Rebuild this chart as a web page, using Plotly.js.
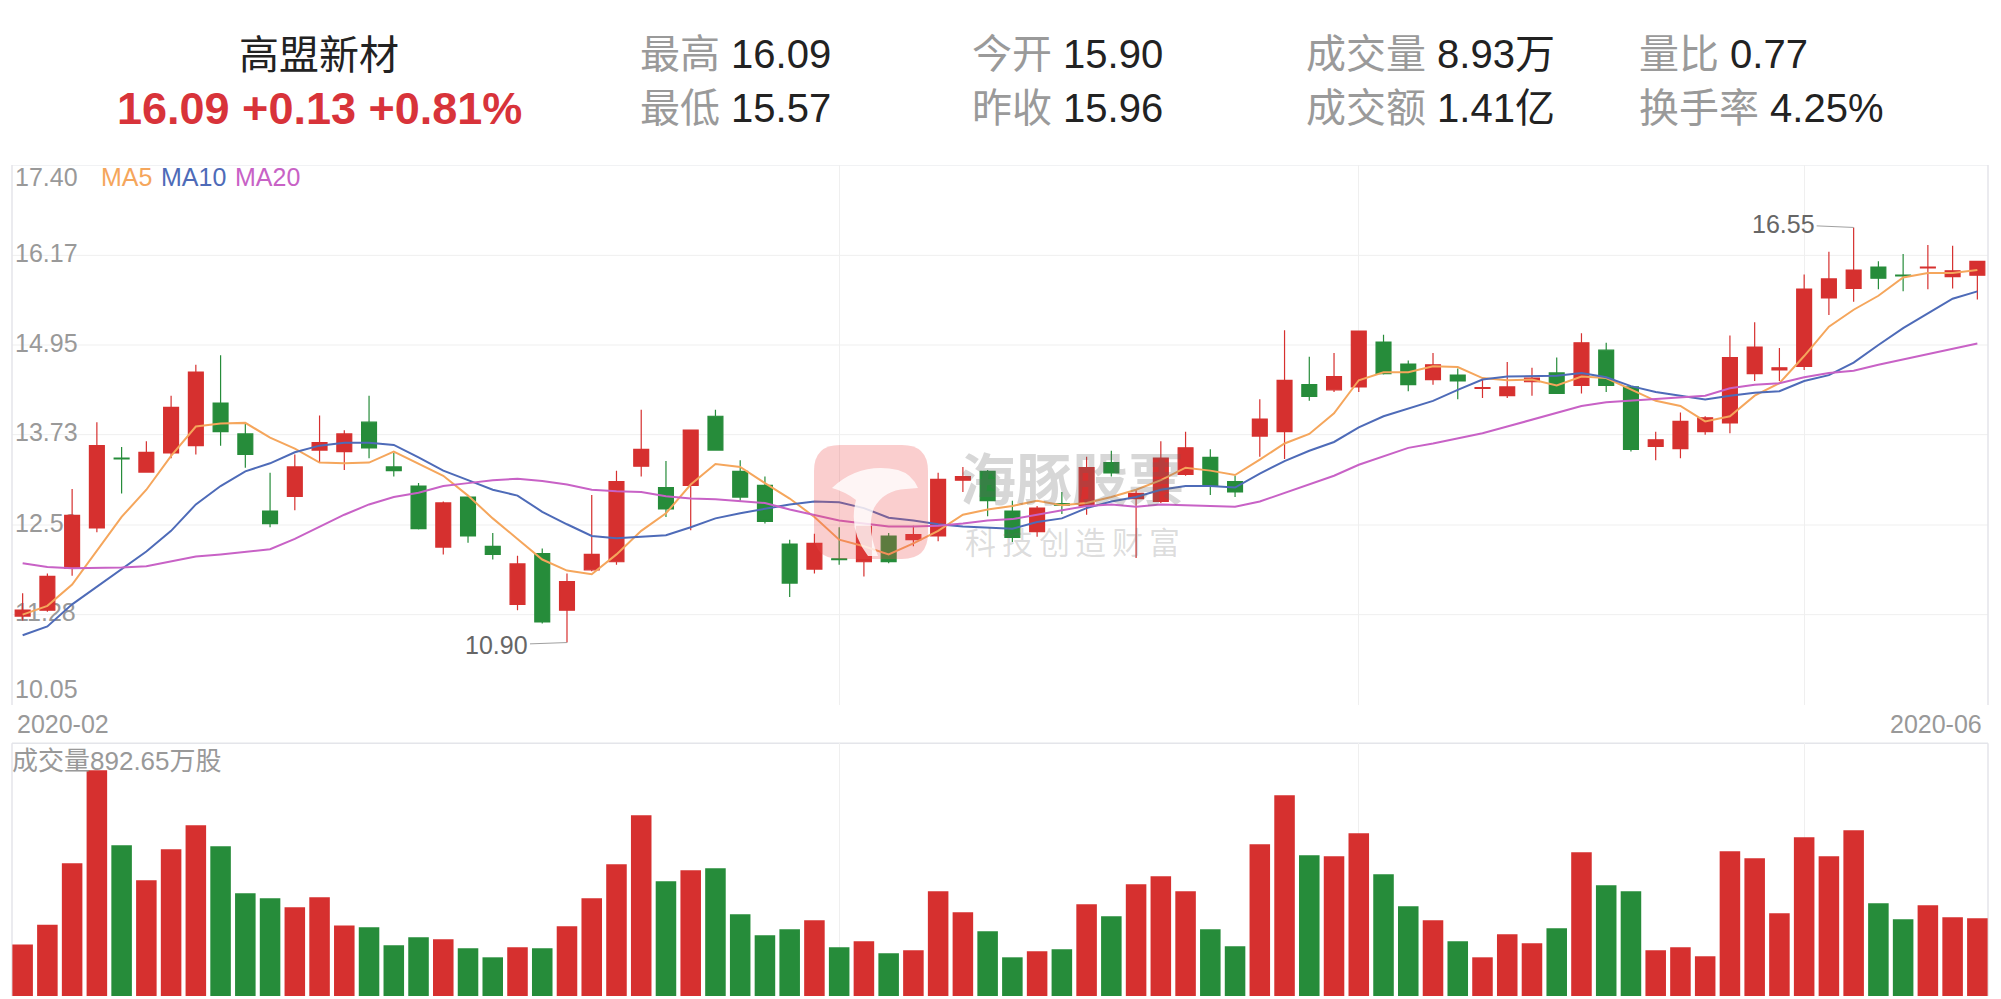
<!DOCTYPE html>
<html>
<head>
<meta charset="utf-8">
<script src="https://cdn.plot.ly/plotly-3.0.1.min.js"></script>
<style>
  html, body { margin: 0; padding: 0; background: #ffffff; }
  #chart { width: 2001px; height: 999px; }
</style>
</head>
<body>
<div id="chart"></div>
<script>
// ---------------- DATA ----------------
var opens  = [11.26,11.34,11.91,12.46,13.41,13.22,13.48,13.58,14.16,13.74,
              12.69,12.89,13.52,13.50,13.90,13.29,13.03,12.20,12.88,12.21,
              11.42,12.11,11.34,11.89,12.00,13.30,13.01,13.04,13.98,13.23,
              13.04,12.24,11.90,12.04,12.00,12.35,12.30,12.35,13.11,13.23,
              12.69,12.41,12.79,12.76,13.35,12.86,12.82,13.19,13.42,13.09,
              13.71,13.77,14.41,14.34,14.38,14.99,14.69,14.48,14.54,14.36,
              14.26,14.45,14.57,14.40,14.88,14.38,13.57,13.54,13.77,13.89,
              14.56,14.61,14.66,15.59,15.72,16.01,15.90,16.00,15.88,15.90];
var highs  = [11.57,11.84,12.99,13.90,13.56,13.64,14.26,14.68,14.81,13.89,
              13.21,13.46,13.99,13.79,14.26,13.48,13.07,12.82,12.89,12.39,
              12.08,12.18,11.84,12.91,13.24,14.07,13.37,13.79,14.07,13.38,
              13.16,12.30,12.38,12.47,12.48,12.39,12.49,13.21,13.29,13.25,
              12.83,12.76,12.95,13.43,13.51,12.98,13.64,13.77,13.53,13.17,
              14.21,15.15,14.79,14.84,15.14,15.09,14.74,14.84,14.63,14.50,
              14.72,14.64,14.78,15.11,14.98,14.38,13.77,14.03,13.98,15.08,
              15.26,14.91,15.91,16.22,16.55,16.09,16.19,16.31,16.30,16.09];
var lows   = [11.20,11.32,11.81,12.40,12.93,13.21,13.41,13.46,13.58,13.28,
              12.47,12.70,13.35,13.25,13.41,13.16,12.44,12.10,12.26,12.03,
              11.34,11.16,10.90,11.87,11.96,13.16,12.61,12.43,13.52,12.83,
              12.52,11.52,11.84,11.96,11.80,11.98,12.21,12.28,12.95,12.62,
              12.27,12.34,12.65,12.64,13.16,12.05,12.80,13.17,12.91,12.88,
              13.43,13.40,14.19,14.31,14.31,14.55,14.32,14.41,14.21,14.23,
              14.23,14.26,14.29,14.29,14.31,13.50,13.38,13.41,13.73,13.75,
              14.46,14.46,14.61,15.36,15.54,15.71,15.68,15.71,15.72,15.57];
var closes = [11.34,11.80,12.63,13.58,13.40,13.49,14.10,14.58,13.77,13.46,
              12.52,13.29,13.62,13.74,13.55,13.24,12.45,12.80,12.35,12.10,
              11.97,11.18,11.73,12.10,13.09,13.53,12.72,13.79,13.52,12.88,
              12.55,11.71,12.25,12.03,12.48,12.00,12.37,13.12,13.16,12.83,
              12.33,12.73,12.77,13.28,13.21,12.93,13.41,13.55,13.03,12.95,
              13.94,14.47,14.25,14.52,15.14,14.56,14.41,14.68,14.46,14.37,
              14.38,14.50,14.29,14.98,14.40,13.53,13.66,13.91,13.96,14.78,
              14.92,14.64,15.71,15.85,15.97,15.86,15.89,16.01,15.96,16.09];
// volume, unit: 万股
var volumes = [590,819,1524,2592,1731,1329,1685,1960,1719,1179,
               1122,1019,1133,808,789,582,674,651,548,444,
               559,548,800,1122,1512,2075,1317,1444,1467,938,
               697,766,869,559,628,490,525,1202,961,743,
               444,513,536,1053,915,1283,1375,1202,766,571,
               1742,2305,1616,1604,1869,1398,1030,869,628,444,
               708,605,777,1650,1271,1202,525,559,456,1662,
               1581,950,1823,1604,1903,1064,881,1041,904,892.65];
var ma5  = [11.28,11.40,11.69,12.15,12.61,12.98,13.44,13.84,13.88,13.89,
            13.69,13.54,13.35,13.34,13.35,13.50,13.33,13.17,12.90,12.59,
            12.31,12.03,11.88,11.83,12.10,12.42,12.66,13.05,13.33,13.29,
            13.07,12.86,12.61,12.30,12.21,12.10,12.25,12.42,12.64,12.71,
            12.76,12.83,12.77,12.80,12.88,12.98,13.11,13.28,13.24,13.18,
            13.39,13.61,13.74,14.02,14.47,14.58,14.58,14.66,14.65,14.50,
            14.47,14.48,14.40,14.52,14.50,14.35,14.19,14.12,13.91,13.98,
            14.26,14.43,14.80,15.20,15.43,15.62,15.87,15.93,15.93,15.97];
var ma10 = [11.00,11.12,11.42,11.66,11.91,12.14,12.42,12.78,13.03,13.23,
            13.34,13.49,13.58,13.62,13.62,13.59,13.42,13.24,13.11,12.98,
            12.90,12.68,12.51,12.35,12.32,12.34,12.36,12.47,12.59,12.66,
            12.72,12.78,12.82,12.81,12.73,12.60,12.56,12.51,12.48,12.47,
            12.45,12.54,12.59,12.73,12.82,12.88,12.98,13.03,13.03,13.01,
            13.20,13.37,13.51,13.63,13.83,13.98,14.08,14.19,14.34,14.48,
            14.52,14.53,14.53,14.57,14.51,14.39,14.31,14.26,14.21,14.26,
            14.30,14.32,14.46,14.54,14.71,14.95,15.18,15.38,15.58,15.68];
var ma20 = [11.98,11.93,11.91,11.91,11.92,11.94,12.00,12.07,12.10,12.14,
            12.17,12.31,12.48,12.64,12.78,12.88,12.94,13.03,13.07,13.11,
            13.13,13.10,13.05,12.98,12.96,12.95,12.89,12.86,12.85,12.82,
            12.80,12.71,12.64,12.56,12.52,12.48,12.48,12.49,12.52,12.56,
            12.58,12.64,12.71,12.76,12.78,12.75,12.78,12.77,12.75,12.75,
            12.82,12.94,13.05,13.17,13.32,13.44,13.55,13.61,13.68,13.75,
            13.84,13.93,14.02,14.12,14.17,14.19,14.22,14.23,14.26,14.36,
            14.41,14.43,14.51,14.57,14.60,14.68,14.75,14.82,14.90,14.97];

var priceTicks = [17.40, 16.17, 14.95, 13.73, 12.50, 11.28, 10.05];
var priceTickText = ['17.40','16.17','14.95','13.73','12.50','11.28','10.05'];
var monthLines = [33, 54, 72];
var xLabels = ['2020-02', '2020-06'];
var maNames = ['MA5', 'MA10', 'MA20'];

var stockName = '高盟新材';
var quoteText = '16.09 +0.13 +0.81%';
var statLabels = ['最高', '今开', '成交量', '量比', '最低', '昨收', '成交额', '换手率'];
var statValues = ['16.09', '15.90', '8.93万', '0.77', '15.57', '15.96', '1.41亿', '4.25%'];
var volumeTitle = '成交量892.65万股';
var maxMark = {idx: 74, value: 16.55, label: '16.55'};
var minMark = {idx: 22, value: 10.90, label: '10.90'};
var wmTitle = '海豚股票';
var wmSlogan = ['科', '技', '创', '造', '财', '富'];

// ---------------- STYLE / LAYOUT ----------------
var W = 2001, H = 999;
var RED = '#d6302f', GREEN = '#268c3a';
var MA_COLORS = ['#f5a65c', '#4e6bb8', '#c862c6'];
var FONT = 'Liberation Sans, Arial, Noto Sans CJK SC, sans-serif';
var CJK = 'Noto Sans CJK SC, sans-serif';
function PX(px) { return px / W; }
function PY(py) { return 1 - py / H; }

var plotL = 12, plotR = 1988;
var priceTop = 165, priceBot = 705;
var volTop = 743.3, volBot = 996;
var priceMin = priceTicks[priceTicks.length - 1], priceMax = priceTicks[0];
var pxPerUnit = (priceBot - priceTop) / (priceMax - priceMin);

var idx = closes.map(function (_, i) { return i; });

// tick label positions: edge labels pulled inside the frame
var tickPos = priceTicks.slice();
tickPos[0] = priceMax - 12 / pxPerUnit;
tickPos[tickPos.length - 1] = priceMin + 16 / pxPerUnit;
for (var k = 1; k < tickPos.length - 1; k++) tickPos[k] = priceTicks[k] + 2 / pxPerUnit;

var traces = [];
traces.push({
  type: 'candlestick', x: idx, open: opens, high: highs, low: lows, close: closes,
  xaxis: 'x', yaxis: 'y', hoverinfo: 'skip', whiskerwidth: 0,
  increasing: {line: {color: RED, width: 1.2}, fillcolor: RED},
  decreasing: {line: {color: GREEN, width: 1.2}, fillcolor: GREEN}
});
[ma5, ma10, ma20].forEach(function (arr, j) {
  traces.push({
    type: 'scatter', mode: 'lines', x: idx, y: arr, xaxis: 'x', yaxis: 'y',
    line: {color: MA_COLORS[j], width: 2}, hoverinfo: 'skip', name: maNames[j]
  });
});
var volColors = closes.map(function (c, i) { return c >= opens[i] ? RED : GREEN; });
traces.push({
  type: 'bar', x: idx, y: volumes, xaxis: 'x', yaxis: 'y2',
  marker: {color: volColors, line: {width: 0}}, hoverinfo: 'skip'
});

var shapes = [];
var lineCol = '#e4e5ea', gridCol = '#efefef';
// horizontal price gridlines (top one is the frame)
for (var g = 0; g < priceTicks.length - 1; g++) {
  shapes.push({type: 'line', xref: 'paper', yref: 'y', x0: PX(plotL), x1: PX(plotR),
    y0: priceTicks[g], y1: priceTicks[g], line: {color: g === 0 ? lineCol : gridCol, width: 1}, layer: 'below'});
}
// frame sides
[[priceTop, priceBot], [volTop, volBot]].forEach(function (p) {
  shapes.push({type: 'line', xref: 'paper', yref: 'paper', x0: PX(plotL), x1: PX(plotL),
    y0: PY(p[0]), y1: PY(p[1]), line: {color: lineCol, width: 1.5}, layer: 'below'});
  shapes.push({type: 'line', xref: 'paper', yref: 'paper', x0: PX(plotR), x1: PX(plotR),
    y0: PY(p[0]), y1: PY(p[1]), line: {color: lineCol, width: 1.5}, layer: 'below'});
});
shapes.push({type: 'line', xref: 'paper', yref: 'paper', x0: PX(plotL), x1: PX(plotR),
  y0: PY(volTop), y1: PY(volTop), line: {color: lineCol, width: 1.5}, layer: 'below'});

// watermark logo (pixel path -> paper path)
function pathFrom(cmds) {
  return cmds.map(function (c) {
    if (typeof c === 'string') return c;
    return PX(c[0]).toFixed(5) + ',' + PY(c[1]).toFixed(5);
  }).join(' ');
}
var lx0 = 814, lx1 = 928, ly0 = 445, ly1 = 559, r = 26;
shapes.push({type: 'path', xref: 'paper', yref: 'paper', layer: 'above',
  path: pathFrom(['M', [lx0 + r, ly0], 'L', [lx1 - r, ly0], 'Q', [lx1, ly0], [lx1, ly0 + r],
    'L', [lx1, ly1 - r], 'Q', [lx1, ly1], [lx1 - r, ly1], 'L', [lx0 + r, ly1],
    'Q', [lx0, ly1], [lx0, ly1 - r], 'L', [lx0, ly0 + r], 'Q', [lx0, ly0], [lx0 + r, ly0], 'Z']),
  fillcolor: 'rgba(238,80,80,0.28)', line: {width: 0}});
shapes.push({type: 'path', xref: 'paper', yref: 'paper', layer: 'above',
  path: pathFrom(['M', [832, 488], 'Q', [860, 462], [898, 470], 'Q', [912, 474], [918, 488],
    'L', [906, 489], 'Q', [884, 490], [874, 508], 'Q', [866, 528], [878, 556],
    'L', [868, 556], 'Q', [848, 530], [856, 500], 'Q', [846, 492], [832, 488], 'Z']),
  fillcolor: 'rgba(255,255,255,0.8)', line: {width: 0}});

var ann = [];
function addText(text, xpx, ypx, size, color, xanchor, family, extra) {
  var a = {xref: 'paper', yref: 'paper', x: PX(xpx), y: PY(ypx), text: text, showarrow: false,
    xanchor: xanchor || 'left', yanchor: 'middle', font: {size: size, color: color, family: family || FONT}};
  if (extra) for (var key in extra) a[key] = extra[key];
  ann.push(a);
}
// header
addText(stockName, 319, 55, 40, '#222222', 'center');
addText('<b>' + quoteText + '</b>', 319, 109, 45, '#d8333a', 'center');
var colX = [638, 970, 1304, 1637], rowY = [54, 108];
statLabels.forEach(function (lab, i) {
  var col = i % 4, row = Math.floor(i / 4);
  addText('<span style="color:#9a9a9a">' + lab + '</span> ' + statValues[i],
    colX[col], rowY[row], 40, '#222222', 'left');
});
// MA legend
var maX = [99, 159, 233];
maNames.forEach(function (n, j) { addText(n, maX[j], 177, 25, MA_COLORS[j], 'left'); });
// x labels
addText(xLabels[0], 15, 724, 25, '#999999', 'left');
addText(xLabels[1], 1984, 724, 25, '#999999', 'right');
// volume title
addText(volumeTitle, 10, 761, 26, '#999999', 'left');
// watermark text
addText('<b>' + wmTitle + '</b>', 1072, 476, 56, 'rgba(100,100,100,0.26)', 'center', CJK);
wmSlogan.forEach(function (ch, k) {
  addText(ch, 962 + 221 / 6 * (k + 0.5), 540, 31, 'rgba(100,100,100,0.22)', 'center', CJK);
});
// max / min marks
[[maxMark, -70, -3], [minMark, -70, 2.5]].forEach(function (m) {
  ann.push({xref: 'x', yref: 'y', x: m[0].idx, y: m[0].value, text: m[0].label,
    showarrow: true, arrowhead: 0, arrowwidth: 1, arrowcolor: '#a0a0a0', standoff: 0,
    ax: m[1], ay: m[2], font: {size: 25, color: '#666666', family: FONT}});
});

var layout = {
  width: W, height: H, margin: {l: 0, r: 0, t: 0, b: 0},
  paper_bgcolor: '#ffffff', plot_bgcolor: 'rgba(0,0,0,0)',
  showlegend: false, boxgap: 0.14, bargap: 0.17, dragmode: false,
  xaxis: {domain: [PX(plotL), PX(plotR)], range: [-0.43, closes.length - 1 + 0.43],
    tickmode: 'array', tickvals: monthLines, showticklabels: false, ticks: '',
    showgrid: true, gridcolor: gridCol, gridwidth: 1, zeroline: false, showline: false,
    rangeslider: {visible: false}, fixedrange: true},
  yaxis: {domain: [PY(priceBot), PY(priceTop)], range: [priceMin, priceMax],
    tickmode: 'array', tickvals: tickPos, ticktext: priceTickText,
    ticklabelposition: 'inside', ticklabeloverflow: 'allow', layer: 'below traces',
    ticks: '', showgrid: false, zeroline: false, showline: false,
    tickfont: {size: 25, color: '#999999', family: FONT}, fixedrange: true},
  yaxis2: {domain: [PY(volBot), PY(volTop)], range: [0, 2900],
    showticklabels: false, showgrid: false, zeroline: false, showline: false, ticks: '', fixedrange: true},
  shapes: shapes, annotations: ann
};

Plotly.newPlot('chart', traces, layout, {staticPlot: true, displayModeBar: false});
</script>
</body>
</html>
